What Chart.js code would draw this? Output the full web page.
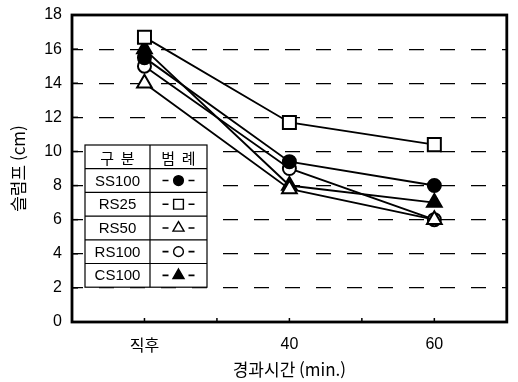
<!DOCTYPE html>
<html lang="ko">
<head>
<meta charset="UTF-8">
<title>슬럼프 경시변화</title>
<script src="https://cdn.jsdelivr.net/npm/chart.js"></script>
<style>
  html, body { margin: 0; padding: 0; background: #fff; }
  #wrap { width: 518px; height: 382px; }
</style>
</head>
<body>
<div id="wrap"><canvas id="slumpChart"></canvas></div>
<script>
// x slots on a 0..6 axis, labels only on the odd ones
const timeSlots = [1, 3, 5];
const timeLabels = ['직후', '40', '60'];
const seriesNames = ['SS100', 'RS25', 'RS50', 'RS100', 'CS100'];
const ss100 = [15.5, 9.4, 8.0];
const rs25 = [16.7, 11.7, 10.4];
const rs50 = [14.0, 7.8, 6.0];
const rs100 = [15.0, 9.0, 6.0];
const cs100 = [16.0, 8.0, 7.0];
const yTicks = [0, 2, 4, 6, 8, 10, 12, 14, 16, 18];

const latin = "'Liberation Sans', Arial, sans-serif";
const hangul = "'Noto Sans CJK KR', 'Liberation Sans', sans-serif";

const markerStyles = [
    { pointStyle: 'circle', radius: 6.5, fill: '#000' },
    { pointStyle: 'rect', radius: 9.2, fill: '#fff' },
    { pointStyle: 'triangle', radius: 8.5, fill: '#fff' },
    { pointStyle: 'circle', radius: 6.5, fill: '#fff' },
    { pointStyle: 'triangle', radius: 8.5, fill: '#000' }
];
const seriesValues = [ss100, rs25, rs50, rs100, cs100];

function toPoints(values) {
    return values.map((v, i) => ({ x: timeSlots[i], y: v }));
}

const datasets = seriesNames.map((name, i) => ({
    label: name,
    data: toPoints(seriesValues[i]),
    borderColor: '#000',
    borderWidth: 1.9,
    pointStyle: markerStyles[i].pointStyle,
    pointRadius: markerStyles[i].radius,
    pointHoverRadius: markerStyles[i].radius,
    pointBackgroundColor: markerStyles[i].fill,
    pointBorderColor: '#000',
    pointBorderWidth: 2,
    tension: 0
}));

// black frame + inward tick marks
const framePlugin = {
    id: 'frame',
    afterDraw(chart) {
        const { ctx, chartArea: a, scales } = chart;
        ctx.save();
        ctx.strokeStyle = '#000';
        ctx.lineWidth = 1.5;
        yTicks.forEach(v => {
            const y = scales.y.getPixelForValue(v);
            ctx.beginPath();
            ctx.moveTo(a.left, y);
            ctx.lineTo(a.left + 6, y);
            ctx.stroke();
        });
        for (let v = 1; v <= 5; v++) {
            const x = scales.x.getPixelForValue(v);
            ctx.beginPath();
            ctx.moveTo(x, a.bottom);
            ctx.lineTo(x, a.bottom - 4);
            ctx.stroke();
        }
        ctx.lineWidth = 2.8;
        ctx.strokeRect(a.left, a.top, a.right - a.left, a.bottom - a.top);
        ctx.restore();
    }
};

// the table-style legend in the lower left
const tableLegend = {
    id: 'tableLegend',
    afterDatasetsDraw(chart) {
        const { ctx, chartArea: a } = chart;
        const x0 = a.left + 13, y0 = a.top + 130;
        const c1 = 65, c2 = 57, rowH = 23.7;
        const rows = seriesNames.length + 1;
        const h = rowH * rows;
        ctx.save();
        ctx.fillStyle = '#fff';
        ctx.fillRect(x0, y0, c1 + c2, h);
        ctx.strokeStyle = '#000';
        ctx.lineWidth = 1.2;
        ctx.strokeRect(x0, y0, c1 + c2, h);
        ctx.beginPath();
        ctx.moveTo(x0 + c1, y0);
        ctx.lineTo(x0 + c1, y0 + h);
        for (let r = 1; r < rows; r++) {
            ctx.moveTo(x0, y0 + r * rowH);
            ctx.lineTo(x0 + c1 + c2, y0 + r * rowH);
        }
        ctx.stroke();

        ctx.fillStyle = '#000';
        ctx.textAlign = 'center';
        ctx.textBaseline = 'middle';
        ctx.font = '15px ' + hangul;
        ctx.fillText('구  분', x0 + c1 / 2, y0 + rowH / 2 + 1);
        ctx.fillText('범  례', x0 + c1 + c2 / 2, y0 + rowH / 2 + 1);

        ctx.font = '15px ' + latin;
        seriesNames.forEach((name, i) => {
            const cy = y0 + (i + 1.5) * rowH;
            const cx = x0 + c1 + c2 / 2;
            ctx.fillStyle = '#000';
            ctx.fillText(name, x0 + c1 / 2, cy + 1);
            ctx.lineWidth = 1.6;
            ctx.beginPath();
            ctx.moveTo(cx - 16, cy);
            ctx.lineTo(cx - 10, cy);
            ctx.moveTo(cx + 10, cy);
            ctx.lineTo(cx + 16, cy);
            ctx.stroke();
            const m = markerStyles[i];
            ctx.fillStyle = m.fill;
            ctx.lineWidth = 1.4;
            Chart.helpers.drawPoint(ctx, {
                pointStyle: m.pointStyle,
                rotation: 0,
                radius: m.radius * 0.75,
                borderWidth: 1.4
            }, cx, cy);
        });
        ctx.restore();
    }
};

new Chart(document.getElementById('slumpChart'), {
    type: 'line',
    data: { datasets },
    plugins: [framePlugin, tableLegend],
    options: {
        responsive: true,
        maintainAspectRatio: false,
        animation: false,
        layout: { padding: { top: 15, right: 3, left: 0, bottom: 0 } },
        plugins: {
            legend: { display: false },
            tooltip: { enabled: false }
        },
        scales: {
            x: {
                type: 'linear',
                min: 0,
                max: 6,
                afterFit: s => { s.height = 60; s.paddingLeft = 0; s.paddingRight = 0; },
                afterBuildTicks: s => { s.ticks = timeSlots.map(v => ({ value: v })); },
                ticks: {
                    padding: 13,
                    color: '#000',
                    font: c => ({ family: c.tick && c.tick.value === 1 ? hangul : latin, size: 16 }),
                    maxRotation: 0,
                    callback: v => {
                        const i = timeSlots.indexOf(v);
                        return i >= 0 ? timeLabels[i] : '';
                    }
                },
                grid: { display: false, drawTicks: false },
                border: { display: false },
                title: {
                    display: true,
                    text: '경과시간 (min.)',
                    color: '#000',
                    font: { family: hangul, size: 17 },
                    padding: { top: 0, bottom: 2 }
                }
            },
            y: {
                min: 0,
                max: 18,
                afterFit: s => { s.width = 72; s.paddingTop = 0; s.paddingBottom = 0; },
                afterBuildTicks: s => { s.ticks = yTicks.map(v => ({ value: v })); },
                ticks: {
                    padding: 10,
                    color: '#000',
                    font: { family: latin, size: 16 }
                },
                grid: {
                    drawTicks: false,
                    lineWidth: 1.2,
                    color: c => (c.tick && (c.tick.value === 0 || c.tick.value === 18)) ? 'rgba(0,0,0,0)' : '#000'
                },
                border: { display: false, dash: [15, 16], dashOffset: 4 },
                title: {
                    display: true,
                    text: '슬럼프 (cm)',
                    color: '#000',
                    font: { family: hangul, size: 17 },
                    padding: { top: 8, bottom: 0 }
                }
            }
        }
    }
});
</script>
</body>
</html>
